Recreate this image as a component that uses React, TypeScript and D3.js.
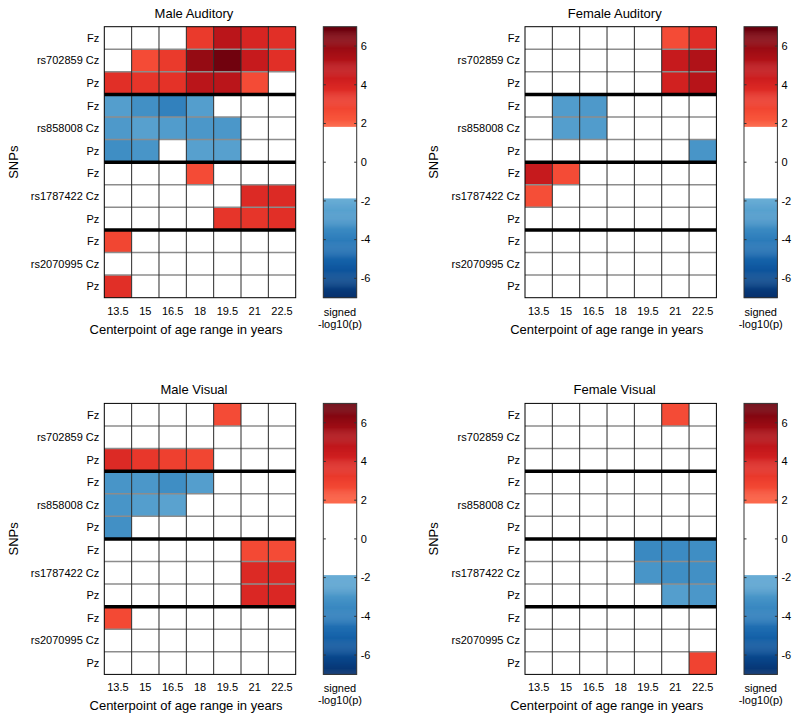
import React from "react";
import * as d3 from "d3";

const ages = ["13.5", "15", "16.5", "18", "19.5", "21", "22.5"];
const snps = ["rs702859", "rs858008", "rs1787422", "rs2070995"];
const electrodes = ["Fz", "Cz", "Pz"];
const cbTicks = [-6, -4, -2, 0, 2, 4, 6];
const threshold = 1.87;

const maleAuditory = [
  [0, 0, 0, 3.2, 5.0, 4.0, 3.6],
  [0, 2.6, 3.2, 6.0, 6.8, 4.6, 3.6],
  [3.6, 3.4, 3.5, 5.0, 5.0, 2.6, 0],
  [-2.6, -3.2, -3.8, -2.6, 0, 0, 0],
  [-2.8, -2.5, -2.7, -2.9, -2.9, 0, 0],
  [-3.3, -3.0, 0, -2.5, -2.5, 0, 0],
  [0, 0, 0, 2.6, 0, 0, 0],
  [0, 0, 0, 0, 0, 3.8, 3.8],
  [0, 0, 0, 0, 3.4, 3.4, 3.6],
  [2.8, 0, 0, 0, 0, 0, 0],
  [0, 0, 0, 0, 0, 0, 0],
  [3.6, 0, 0, 0, 0, 0, 0],
];
const femaleAuditory = [
  [0, 0, 0, 0, 0, 2.6, 3.7],
  [0, 0, 0, 0, 0, 4.6, 5.3],
  [0, 0, 0, 0, 0, 4.2, 5.1],
  [0, -2.7, -2.8, 0, 0, 0, 0],
  [0, -2.6, -2.7, 0, 0, 0, 0],
  [0, 0, 0, 0, 0, 0, -3.0],
  [4.6, 2.6, 0, 0, 0, 0, 0],
  [2.5, 0, 0, 0, 0, 0, 0],
  [0, 0, 0, 0, 0, 0, 0],
  [0, 0, 0, 0, 0, 0, 0],
  [0, 0, 0, 0, 0, 0, 0],
  [0, 0, 0, 0, 0, 0, 0],
];
const maleVisual = [
  [0, 0, 0, 0, 2.6, 0, 0],
  [0, 0, 0, 0, 0, 0, 0],
  [3.8, 3.3, 3.0, 2.8, 0, 0, 0],
  [-3.0, -2.9, -3.3, -2.6, 0, 0, 0],
  [-3.0, -2.6, -2.4, 0, 0, 0, 0],
  [-3.2, 0, 0, 0, 0, 0, 0],
  [0, 0, 0, 0, 0, 2.7, 2.6],
  [0, 0, 0, 0, 0, 3.8, 3.8],
  [0, 0, 0, 0, 0, 3.9, 3.9],
  [2.7, 0, 0, 0, 0, 0, 0],
  [0, 0, 0, 0, 0, 0, 0],
  [0, 0, 0, 0, 0, 0, 0],
];
const femaleVisual = [
  [0, 0, 0, 0, 0, 2.6, 0],
  [0, 0, 0, 0, 0, 0, 0],
  [0, 0, 0, 0, 0, 0, 0],
  [0, 0, 0, 0, 0, 0, 0],
  [0, 0, 0, 0, 0, 0, 0],
  [0, 0, 0, 0, 0, 0, 0],
  [0, 0, 0, 0, -3.5, -3.4, -3.3],
  [0, 0, 0, 0, -3.0, -3.3, -3.2],
  [0, 0, 0, 0, 0, -2.6, -2.9],
  [0, 0, 0, 0, 0, 0, 0],
  [0, 0, 0, 0, 0, 0, 0],
  [0, 0, 0, 0, 0, 0, 2.9],
];

const panelTitles = ["Male Auditory", "Female Auditory", "Male Visual", "Female Visual"];
const panelData = [maleAuditory, femaleAuditory, maleVisual, femaleVisual];

const FONT = "'Liberation Sans', Arial, Helvetica, sans-serif";

const redInterp = d3.interpolateRgbBasis(["#fc6142", "#ef3b2c", "#cb181d", "#a50f15", "#67000d"]);
const blueInterp = d3.interpolateRgbBasis(["#6baed6", "#4292c6", "#2171b5", "#08519c", "#08306b"]);
const colorOf = (v: number) => {
  if (Math.abs(v) < threshold) return "#ffffff";
  const t = (Math.abs(v) - threshold) / (7 - threshold);
  return v > 0 ? redInterp(Math.min(1, t)) : blueInterp(Math.min(1, t));
};

const rowLabels: { snp: string; el: string }[] = [];
snps.forEach((s) => electrodes.forEach((e) => rowLabels.push({ snp: s, el: e })));

const HX = 104.3, HW = 191.4, HY = 26.7, HH = 271;
const CBX = 323.3, CBW = 33.4;
const DX = 420.7, DY = 376.7;

function Panel({ title, data, ox, oy }: { title: string; data: number[][]; ox: number; oy: number }) {
  const x = d3.scaleBand<string>().domain(ages).range([HX, HX + HW]);
  const y = d3.scaleBand<number>().domain(d3.range(rowLabels.length)).range([HY, HY + HH]);
  const cb = d3.scaleLinear().domain([-7, 7]).range([HY + HH, HY]);
  const gradSteps = d3.range(-7, 7, 0.05);
  const cx = HX + HW / 2;
  return (
    <g transform={`translate(${ox},${oy})`} fontFamily={FONT}>
      <text x={cx - 6} y={HY - 9} textAnchor="middle" fontSize={13} fill="#000">{title}</text>
      {data.map((row, ri) =>
        row.map((v, ci) => (
          <rect key={`${ri}-${ci}`} x={x(ages[ci])!} y={y(ri)!} width={x.bandwidth()} height={y.bandwidth()} fill={colorOf(v)} />
        ))
      )}
      {/* horizontal thin grey lines */}
      {d3.range(1, rowLabels.length).filter((i) => i % 3 !== 0).map((i) => (
        <line key={`h${i}`} x1={HX} x2={HX + HW} y1={y(i)!} y2={y(i)!} stroke="#8c8c8c" strokeWidth={1.5} />
      ))}
      {/* vertical lines */}
      {d3.range(1, ages.length).map((i) => (
        <line key={`v${i}`} x1={x(ages[i])!} x2={x(ages[i])!} y1={HY} y2={HY + HH} stroke="#2a2a2a" strokeWidth={1} />
      ))}
      {/* thick group separators */}
      {[3, 6, 9].map((i) => (
        <line key={`s${i}`} x1={HX} x2={HX + HW} y1={y(i)!} y2={y(i)!} stroke="#000" strokeWidth={3.5} />
      ))}
      <rect x={HX} y={HY} width={HW} height={HH} fill="none" stroke="#000" strokeWidth={1} />
      {rowLabels.map((r, i) => (
        <text key={`yl${i}`} x={HX - 5} y={y(i)! + y.bandwidth() / 2} dy="0.35em" textAnchor="end" fontSize={11} fill="#000">
          {r.el === "Cz" ? `${r.snp} ${r.el}` : r.el}
        </text>
      ))}
      <text transform={`translate(13,${HY + HH / 2}) rotate(-90)`} textAnchor="middle" dy="0.35em" fontSize={13} fill="#000">SNPs</text>
      {ages.map((a) => (
        <text key={`xt${a}`} x={x(a)! + x.bandwidth() / 2} y={HY + HH + 17} textAnchor="middle" fontSize={11} fill="#000">{a}</text>
      ))}
      <text x={cx - 14} y={HY + HH + 36} textAnchor="middle" fontSize={13} fill="#000">Centerpoint of age range in years</text>
      {/* colorbar */}
      {gradSteps.map((v) => (
        <rect key={`cb${v.toFixed(2)}`} x={CBX} y={cb(v + 0.05)} width={CBW} height={cb(v) - cb(v + 0.05) + 0.4} fill={colorOf(v + 0.025)} />
      ))}
      <rect x={CBX} y={HY} width={CBW} height={HH} fill="none" stroke="#333" strokeWidth={1} />
      {cbTicks.map((t) => (
        <g key={`cbt${t}`}>
          <line x1={CBX} x2={CBX + 2.5} y1={cb(t)} y2={cb(t)} stroke="#333" strokeWidth={1} />
          <line x1={CBX + CBW - 2.5} x2={CBX + CBW} y1={cb(t)} y2={cb(t)} stroke="#333" strokeWidth={1} />
          <text x={CBX + CBW + 4} y={cb(t)} dy="0.35em" fontSize={11} fill="#000">{t}</text>
        </g>
      ))}
      <text x={CBX + CBW / 2} y={HY + HH + 18} textAnchor="middle" fontSize={11} fill="#000">signed</text>
      <text x={CBX + CBW / 2} y={HY + HH + 30} textAnchor="middle" fontSize={11} fill="#000">-log10(p)</text>
    </g>
  );
}

export default function App() {
  const offsets = [
    [0, 0],
    [DX, 0],
    [0, DY],
    [DX, DY],
  ];
  return (
    <svg width={800} height={721} style={{ position: "absolute", left: 0, top: 0, background: "#fff" }}>
      <rect x={0} y={0} width={800} height={721} fill="#fff" />
      {panelTitles.map((t, i) => (
        <Panel key={t} title={t} data={panelData[i]} ox={offsets[i][0]} oy={offsets[i][1]} />
      ))}
    </svg>
  );
}
